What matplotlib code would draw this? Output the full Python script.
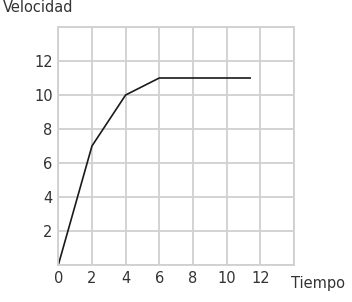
import matplotlib
matplotlib.use('Agg')
import matplotlib.pyplot as plt

# datos
tiempo = [0, 2, 4, 6, 11.4]
velocidad = [0, 7, 10, 11, 11]
xticks = [0, 2, 4, 6, 8, 10, 12]
yticks = [2, 4, 6, 8, 10, 12]

fig = plt.figure(figsize=(3.52, 3.02), dpi=100)
ax = fig.add_axes([0.1656, 0.1225, 0.835 - 0.1656, 0.9106 - 0.1225])

ax.plot(tiempo, velocidad, color='#1a1a1a', linewidth=1.2)
ax.set_xlim(0, 14)
ax.set_ylim(0, 14)
ax.set_xticks(range(0, 15, 2))
ax.set_yticks(range(0, 15, 2))
ax.set_xticklabels([str(t) for t in xticks] + [''])
ax.set_yticklabels([''] + [str(t) for t in yticks] + [''])
ax.grid(True, color='#d0d0d0', linewidth=1.3)
ax.set_axisbelow(True)
for s in ax.spines.values():
    s.set_color('#d0d0d0')
    s.set_linewidth(1.3)
ax.tick_params(length=0, labelsize=10.5, labelcolor='#333333', pad=4)

fig.text(0.008, 0.975, 'Velocidad', fontsize=10.5, color='#333333', va='center')
fig.text(0.828, 0.062, 'Tiempo', fontsize=10.5, color='#333333', va='center')

fig.savefig('out.png', dpi=100)
